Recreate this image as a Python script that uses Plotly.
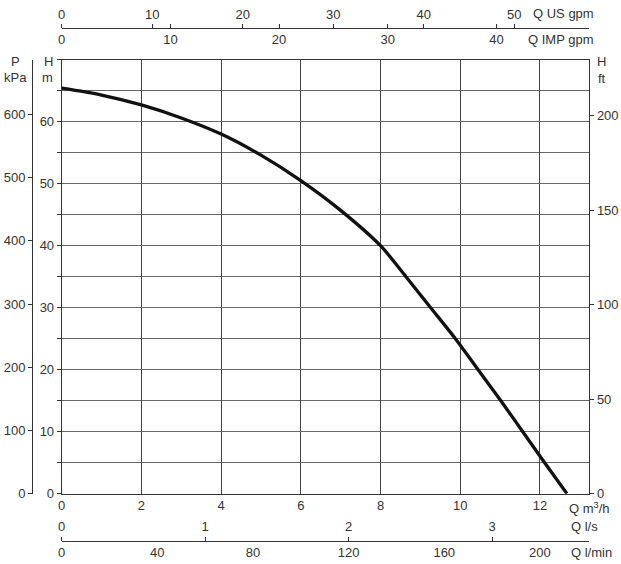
import plotly.graph_objects as go

W, H = 621, 564

# ---- data ----
flow_m3h = [0, 1, 2, 3, 4, 5, 6, 7, 8, 8.64, 9.26, 9.88, 10.45, 11.02, 11.57, 12.12, 12.68]
head_m = [65.4, 64.3, 62.7, 60.6, 58.0, 54.6, 50.5, 45.7, 40.0, 35.0, 30.0, 25.0, 20.0, 15.0, 10.0, 5.0, 0.0]

q_m3h_ticks = [0, 2, 4, 6, 8, 10, 12]
q_ls_ticks = [0, 1, 2, 3]
q_lmin_ticks = [0, 40, 80, 120, 160, 200]
q_usgpm_ticks = [0, 10, 20, 30, 40, 50]
q_impgpm_ticks = [0, 10, 20, 30, 40]
h_m_ticks = [0, 10, 20, 30, 40, 50, 60]
h_m_minor_step = 5
p_kpa_ticks = [0, 100, 200, 300, 400, 500, 600]
h_ft_ticks = [0, 50, 100, 150, 200]

Q_MAX = 13.24   # m3/h at right frame
H_MAX = 70      # m at top frame

# unit conversions
US_GPM = 4.40287
IMP_GPM = 3.66615
LS = 1 / 3.6
LMIN = 1000 / 60
KPA = 9.80665
FT = 1 / 0.3048


def px(x):
    return x / W


def py(y):
    return 1 - y / H


FONT = dict(family="Liberation Sans, Arial, sans-serif", size=13, color="#333")
LINE = "#333"
HGRID = "#666"

xdom = [px(61.7), px(589.3)]
ydom = [py(493.7), py(59.7)]

fig = go.Figure()
fig.add_trace(go.Scatter(x=flow_m3h, y=head_m, mode="lines",
                         line=dict(color="#111", width=3.3, shape="spline", smoothing=0.8),
                         showlegend=False, hoverinfo="skip"))

common = dict(showline=True, linecolor=LINE, linewidth=1, zeroline=False, automargin=False,
              tickfont=FONT, tickcolor=LINE, fixedrange=True)

fig.update_layout(
    width=W, height=H, autosize=False,
    margin=dict(l=0, r=0, t=0, b=0, pad=0, autoexpand=False),
    paper_bgcolor="white", plot_bgcolor="white",
    showlegend=False,
    xaxis=dict(domain=xdom, range=[0, Q_MAX], tickvals=q_m3h_ticks, ticks="",
               showgrid=True, gridcolor="#444", gridwidth=1, mirror=True, **common),
    yaxis=dict(domain=ydom, range=[0, H_MAX], tickvals=h_m_ticks,
               ticks="outside", ticklen=4, showgrid=True, gridcolor=HGRID, gridwidth=1,
               minor=dict(dtick=h_m_minor_step, ticks="outside", ticklen=4, tickcolor=LINE,
                          showgrid=True, gridcolor=HGRID, gridwidth=1),
               mirror=True, **common),
    # P kPa axis (left, free)
    yaxis2=dict(overlaying="y", anchor="free", position=px(32), side="left",
                range=[0, H_MAX * KPA], tickvals=p_kpa_ticks, ticks="outside", ticklen=4,
                showgrid=False, **common),
    # H ft axis (right)
    yaxis3=dict(overlaying="y", anchor="x", side="right",
                range=[0, H_MAX * FT], tickvals=h_ft_ticks, ticks="outside", ticklen=4,
                showgrid=False, **common),
    # top: US gpm
    xaxis2=dict(overlaying="x", anchor="free", position=py(27.7), side="top",
                range=[0, Q_MAX * US_GPM], tickvals=q_usgpm_ticks, ticks="outside", ticklen=4,
                showgrid=False, **common),
    # top: IMP gpm (labels below, ticks up)
    xaxis3=dict(overlaying="x", anchor="free", position=py(27.7), side="bottom",
                range=[0, Q_MAX * IMP_GPM], tickvals=q_impgpm_ticks, ticks="inside", ticklen=4,
                showgrid=False, **common),
    # bottom: l/s
    xaxis4=dict(overlaying="x", anchor="free", position=py(540.5), side="top",
                range=[0, Q_MAX * LS], tickvals=q_ls_ticks, ticks="outside", ticklen=4,
                showgrid=False, **common),
    # bottom: l/min
    xaxis5=dict(overlaying="x", anchor="free", position=py(540.5), side="bottom",
                range=[0, Q_MAX * LMIN], tickvals=q_lmin_ticks, ticks="",
                showgrid=False, **common),
)

# dummy traces to activate the extra axes
for xa, ya in [("x", "y2"), ("x", "y3"), ("x2", "y"), ("x3", "y"), ("x4", "y"), ("x5", "y")]:
    fig.add_trace(go.Scatter(x=[None], y=[None], xaxis=xa, yaxis=ya, showlegend=False,
                             hoverinfo="skip"))

ann = [
    ("P", 15, 61, "center"), ("kPa", 15, 77, "center"),
    ("H", 48, 61, "center"), ("m", 47, 77, "center"),
    ("H", 595, 62, "left"), ("ft", 596, 78, "left"),
    ("Q US gpm", 531, 13, "left"), ("Q IMP gpm", 526, 39, "left"),
    ("Q m<sup>3</sup>/h", 567, 508, "left"), ("Q l/s", 569, 526, "left"),
    ("Q l/min", 569, 552, "left"),
]
for text, x, y, al in ann:
    fig.add_annotation(text=text, x=px(x), y=py(y), xref="paper", yref="paper",
                       xanchor=al, yanchor="middle", showarrow=False, font=FONT)

fig.write_html("out.html", config={"displayModeBar": False},
               post_script="document.body.style.margin='0';document.body.style.overflow='hidden';")
